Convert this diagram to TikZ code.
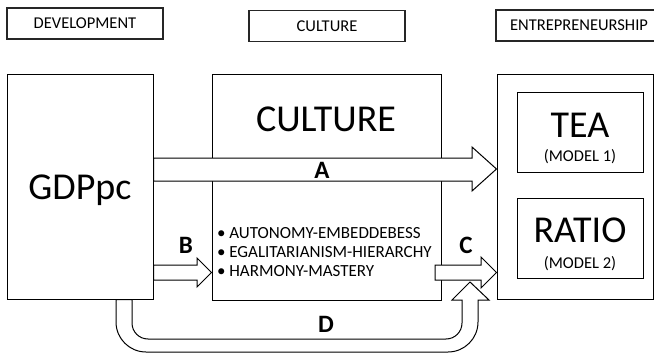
\documentclass[tikz,border=0pt]{standalone}
\usepackage{tikz}
\usepackage{fontspec}
\setmainfont{Carlito}

\begin{document}
\begin{tikzpicture}[x=1pt,y=-1pt,
  box/.style={draw, line width=1pt, inner sep=0pt},
  headbox/.style={draw=black!85, line width=1.5pt, inner sep=0pt, minimum height=31pt,
    font=\fontsize{16.5}{18}\selectfont},
  blockarrow/.style={draw, fill=white, line width=1pt, line join=miter},
  bigtext/.style={anchor=base, font=\fontsize{38}{42}\selectfont},
  smalltext/.style={anchor=base, font=\fontsize{16.5}{18}\selectfont},
  letter/.style={anchor=base, font=\fontsize{25}{28}\selectfont\bfseries}]
\useasboundingbox (0,0) rectangle (654,353);
%headings
\node[headbox, minimum width=156pt] (dev) at (85,23.5) {DEVELOPMENT};
\node[headbox, minimum width=156pt] (cul) at (327,26) {CULTURE};
\node[headbox, minimum width=166pt] (ent) at (579,25.5) {ENTREPRENEURSHIP};

%development
\node[box, minimum width=146pt, minimum height=224pt] (gdp) at (80,187) {};
\node[bigtext] (gdptext) at (80,199.5) {GDPpc};

%culture
\node[box, minimum width=229pt, minimum height=225pt] (culture) at (326.5,187.5) {};
\node[bigtext] (culttitle) at (326,131.5) {CULTURE};
\foreach \txt [count=\i] in {AUTONOMY-EMBEDDEBESS, EGALITARIANISM-HIERARCHY, HARMONY-MASTERY}
  \node[anchor=base west, font=\fontsize{17}{19}\selectfont] (value\i) at (213.5,219.5+19*\i) {\textbullet\ \txt};

%entrepreneurship
\node[box, minimum width=156pt, minimum height=224pt] (entre) at (575,187) {};
\node[box, minimum width=126pt, minimum height=79pt] (tea) at (580,132.5) {};
\node[bigtext] (teatext) at (580,137) {TEA};
\node[smalltext] (model1) at (580,161) {(MODEL 1)};
\node[box, minimum width=126pt, minimum height=80pt] (ratio) at (580,238) {};
\node[bigtext] (ratiotext) at (580,242) {RATIO};
\node[smalltext] (model2) at (580,268) {(MODEL 2)};

%block arrows
\filldraw[blockarrow] (gdp.east |- 0,158) -- (472,158) -- (472,147) -- (entre.west |- 0,169)
  -- (472,191) -- (472,181) -- (gdp.east |- 0,181) -- cycle;
\filldraw[blockarrow] (gdp.east |- 0,265) -- (197,265) -- (197,258) -- (culture.west |- 0,272.5)
  -- (197,287) -- (197,280) -- (gdp.east |- 0,280) -- cycle;
\filldraw[blockarrow] (gdp.south -| 116,0) [rounded corners=30pt] -- (116,352) -- (478,352)
  [sharp corners] -- (478,300) -- (489,300) -- (470,282) -- (452,300) -- (462,300)
  [rounded corners=16pt] -- (462,339) -- (132,339) [sharp corners] -- (gdp.south -| 132,0) -- cycle;
\filldraw[blockarrow] (435,265) -- (481,265) -- (481,257) -- (entre.west |- 0,272.5)
  -- (481,288) -- (481,280) -- (435,280) -- cycle;

%labels
\node[letter] (la) at (322,178) {A};
\node[letter] (lb) at (186,253) {B};
\node[letter] (lc) at (466,253) {C};
\node[letter] (ld) at (326,332) {D};
\end{tikzpicture}
\end{document}
